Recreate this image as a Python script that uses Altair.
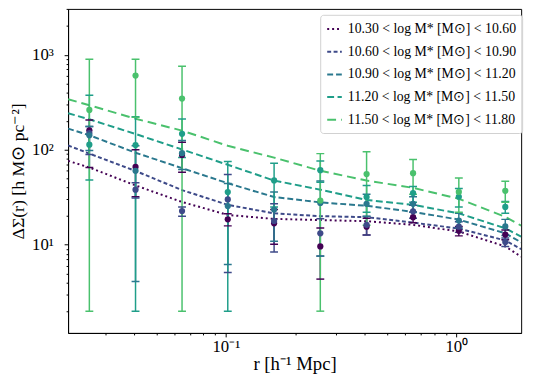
import altair as alt
import pandas as pd

# ---------------- data ----------------
series = [
    "10.30 < log M* [M⊙] < 10.60",
    "10.60 < log M* [M⊙] < 10.90",
    "10.90 < log M* [M⊙] < 11.20",
    "11.20 < log M* [M⊙] < 11.50",
    "11.50 < log M* [M⊙] < 11.80",
]
colors = ["#440154", "#3e4a89", "#2a788e", "#1f9e89", "#4ac16d"]
dashes = [[2, 3], [4, 2.5], [6, 3], [7, 3.5], [9, 5]]

# model curves
x_model = [0.0207, 0.0256, 0.0406, 0.0646, 0.102, 0.162, 0.257, 0.408, 0.649, 1.025, 1.63, 1.91]
model_1 = [76.4, 65, 42.1, 28.2, 20.6, 18.7, 18.2, 17.7, 16.2, 13.8, 9.6, 7.5]
model_2 = [111, 91, 59.8, 37.6, 26.3, 21.4, 20.0, 19.5, 17.1, 14.8, 11.1, 9.0]
model_3 = [167, 142, 93, 64, 44.4, 31.8, 27.9, 25.7, 22.2, 18.4, 13.2, 10.6]
model_4 = [242, 209, 146.5, 100.7, 69.4, 47.4, 38.0, 29.6, 26.3, 21.4, 14.9, 12.2]
model_5 = [340, 294, 212, 159, 110, 82.6, 60.1, 47.4, 39.7, 30.5, 19.7, 15.9]
# half-width of the shaded band (dex)
band_1 = [0.008, 0.008, 0.01, 0.01, 0.012, 0.014, 0.015, 0.016, 0.016, 0.016, 0.016, 0.016]
band_2 = [0.008, 0.008, 0.01, 0.012, 0.014, 0.016, 0.018, 0.02, 0.02, 0.02, 0.02, 0.02]
band_3 = [0.01, 0.01, 0.012, 0.015, 0.018, 0.022, 0.025, 0.028, 0.03, 0.03, 0.03, 0.03]
band_4 = [0.01, 0.012, 0.015, 0.02, 0.025, 0.03, 0.035, 0.04, 0.04, 0.04, 0.04, 0.04]
band_5 = [0.02, 0.02, 0.025, 0.03, 0.035, 0.04, 0.05, 0.06, 0.07, 0.07, 0.065, 0.06]

# measurements
x_data = [0.0256, 0.0406, 0.0646, 0.102, 0.162, 0.257, 0.408, 0.649, 1.025, 1.63]
pt_1 = [160, 66, 88, 18.5, 16.8, 9.6, 15.5, 19.5, 14, 12.8]
lo_1 = [65, 32, 58, 15.8, 10.1, 4.35, 12.7, 17, 12.4, 11.3]
hi_1 = [206, 100, 120, 21.2, 23.5, 15, 19, 22, 15.6, 14.3]
pt_2 = [150, 38, 22.6, 30, 17.8, 13.2, 16.2, 22.5, 15.5, 10.7]
lo_2 = [89, 31, 20, 5.1, 8.4, 7.6, 12.7, 19, 13.5, 9.6]
hi_2 = [176, 45, 25, 55, 27, 18.8, 19.8, 26, 17.5, 11.8]
pt_3 = [142, 60, 92, 25.5, 23.5, 27.5, 27, 27, 18, 15.6]
lo_3 = [98, 4.1, 62, 6.2, 10.9, 7.6, 20, 22, 15, 12.5]
hi_3 = [176, 110, 125, 44, 36, 47, 34, 32, 21.5, 18.5]
pt_4 = [113, 112, 147, 35.8, 47.5, 61, 31.8, 35, 32, 25]
lo_4 = [48, 2, 83, 2, 25, 45.5, 22, 28, 25, 21.5]
hi_4 = [374, 223, 211, 75, 72, 76, 42, 41, 39, 28.5]
pt_5 = [262, 603, 346, None, None, 29.2, 55.5, 56.7, 36, 37]
lo_5 = [2, 220, 2, None, None, 2, 16, 34, 22, 28]
hi_5 = [898, 898, 755, None, None, 91, 95, 79, 50.4, 46.7]

x_major = [0.1, 1]
x_minor = [0.03, 0.04, 0.05, 0.06, 0.07, 0.08, 0.09, 0.2, 0.3, 0.4, 0.5, 0.6, 0.7, 0.8, 0.9]
y_major = [10, 100, 1000]
y_minor = [2, 3, 4, 5, 6, 7, 8, 9, 20, 30, 40, 50, 60, 70, 80, 90,
           200, 300, 400, 500, 600, 700, 800, 900, 2000, 3000]
x_domain = [0.0207, 1.91]
y_domain = [1.18, 3035]

# ---------------- tables ----------------
models = [model_1, model_2, model_3, model_4, model_5]
bands = [band_1, band_2, band_3, band_4, band_5]
pts = [pt_1, pt_2, pt_3, pt_4, pt_5]
los = [lo_1, lo_2, lo_3, lo_4, lo_5]
his = [hi_1, hi_2, hi_3, hi_4, hi_5]

mrows, prows, crows = [], [], []
for i, s in enumerate(series):
    for x, m, w in zip(x_model, models[i], bands[i]):
        mrows.append(dict(s=s, order=i, x=x, y=m, ylo=m * 10 ** (-w), yhi=m * 10 ** w))
    for x, p, lo, hi in zip(x_data, pts[i], los[i], his[i]):
        if p is None:
            continue
        prows.append(dict(s=s, order=i, x=x, y=p, lo=lo, hi=hi))
        crows.append(dict(s=s, order=i, x=x, yc=lo))
        crows.append(dict(s=s, order=i, x=x, yc=hi))
mdf = pd.DataFrame(mrows)
pdf = pd.DataFrame(prows)
cdf = pd.DataFrame(crows)

FONT = "Liberation Serif"
xs = alt.Scale(type="log", domain=x_domain, nice=False)
ys = alt.Scale(type="log", domain=y_domain, nice=False)
cs = alt.Scale(domain=series, range=colors)
ds = alt.Scale(domain=series, range=dashes)

x_major_axis = alt.Axis(values=x_major, labelExpr="datum.value < 0.5 ? '10⁻¹' : '10⁰'",
                        tickSize=4, grid=False, title="r [h⁻¹ Mpc]", orient="bottom",
                        labelPadding=2, titlePadding=0)
y_major_axis = alt.Axis(values=y_major,
                        labelExpr="datum.value > 500 ? '10³' : datum.value > 50 ? '10²' : '10¹'",
                        tickSize=4, grid=False, title="ΔΣ(r) [h M⊙ pc⁻²]", orient="left",
                        labelPadding=11, titlePadding=4, titleFontSize=18)
x_minor_axis = alt.Axis(values=x_minor, labels=False, tickSize=2, grid=False, title="",
                        orient="bottom", domain=False)
y_minor_axis = alt.Axis(values=y_minor, labels=False, tickSize=2, grid=False, title="",
                        orient="left", domain=False)

legend = alt.Legend(title=None, orient="none", legendX=256, legendY=6, symbolType="stroke",
                    symbolSize=220, symbolStrokeWidth=2, labelFontSize=14,
                    labelFont=FONT, rowPadding=7, padding=6,
                    fillColor="rgba(255,255,255,0.85)", strokeColor="#d0d0d0",
                    cornerRadius=3, labelOffset=5, labelLimit=300)

bands_layer = alt.Chart(mdf).mark_area(opacity=0.28, clip=True).encode(
    x=alt.X("x:Q", scale=xs, axis=x_minor_axis),
    y=alt.Y("ylo:Q", scale=ys, axis=y_minor_axis),
    y2="yhi:Q",
    color=alt.Color("s:N", scale=cs, legend=None),
    detail="s:N",
    order="x:Q",
)

lines_layer = alt.Chart(mdf).mark_line(strokeWidth=2, clip=True).encode(
    x=alt.X("x:Q", scale=xs, axis=None),
    y=alt.Y("y:Q", scale=ys, axis=None),
    color=alt.Color("s:N", scale=cs, legend=legend),
    strokeDash=alt.StrokeDash("s:N", scale=ds, legend=legend),
    detail="s:N",
    order="x:Q",
)

rules_layer = alt.Chart(pdf).mark_rule(strokeWidth=1.5, clip=True).encode(
    x=alt.X("x:Q", scale=xs, axis=None),
    y=alt.Y("lo:Q", scale=ys, axis=None),
    y2="hi:Q",
    color=alt.Color("s:N", scale=cs, legend=None),
)

caps_layer = alt.Chart(cdf).mark_point(shape="M -1 0 L 1 0", size=64, filled=False,
                                       strokeWidth=1.5, opacity=1, clip=True).encode(
    x=alt.X("x:Q", scale=xs, axis=None),
    y=alt.Y("yc:Q", scale=ys, axis=None),
    color=alt.Color("s:N", scale=cs, legend=None),
)

points_layer = alt.Chart(pdf).mark_circle(size=40, opacity=1, clip=True).encode(
    x=alt.X("x:Q", scale=xs, axis=x_major_axis),
    y=alt.Y("y:Q", scale=ys, axis=y_major_axis),
    color=alt.Color("s:N", scale=cs, legend=None),
)

chart = alt.layer(bands_layer, lines_layer, rules_layer, caps_layer, points_layer).resolve_axis(
    x="independent", y="independent"
).resolve_scale(
    color="independent", strokeDash="independent"
).properties(
    width=460, height=329,
    autosize=alt.AutoSizeParams(type="none"),
    padding={"left": 61, "top": -2, "right": 10, "bottom": 54},
).configure_view(
    stroke="black", strokeWidth=1
).configure_axis(
    labelFont=FONT, titleFont=FONT,
    labelFontSize=17, titleFontSize=19, titleFontWeight="normal",
    labelColor="black", titleColor="black", tickColor="black", domainColor="black",
    tickWidth=1,
).configure_legend(
    labelColor="black"
)

chart.save("out.html", embed_options={"renderer": "svg", "actions": False})
